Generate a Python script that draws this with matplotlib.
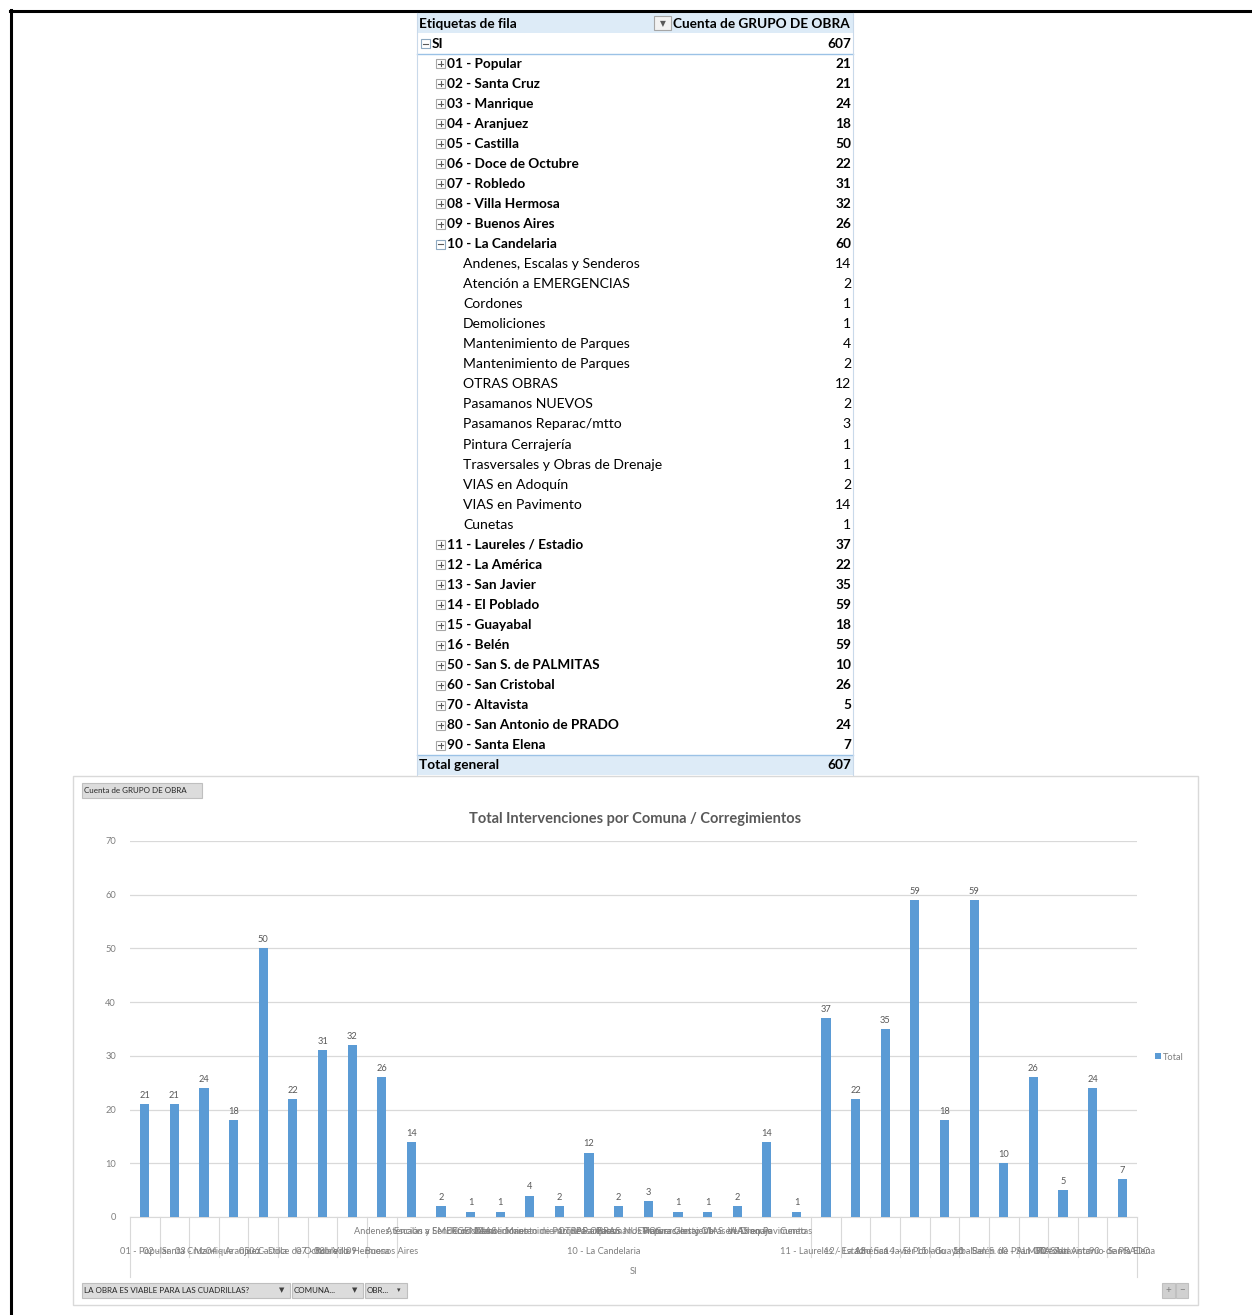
import matplotlib
matplotlib.use('Agg')
import matplotlib.pyplot as plt
from matplotlib.patches import Rectangle
from matplotlib.lines import Line2D

# Pivot table data
comunas = ['01 - Popular', '02 - Santa Cruz', '03 - Manrique', '04 - Aranjuez',
           '05 - Castilla', '06 - Doce de Octubre', '07 - Robledo',
           '08 - Villa Hermosa', '09 - Buenos Aires', '10 - La Candelaria',
           '11 - Laureles / Estadio', '12 - La América', '13 - San Javier',
           '14 - El Poblado', '15 - Guayabal', '16 - Belén',
           '50 - San S. de PALMITAS', '60 - San Cristobal', '70 - Altavista',
           '80 - San Antonio de PRADO', '90 - Santa Elena']
totales = [21, 21, 24, 18, 50, 22, 31, 32, 26, 60, 37, 22, 35, 59, 18, 59, 10, 26, 5, 24, 7]
expandida = '10 - La Candelaria'
obras_candelaria = ['Andenes, Escalas y Senderos', 'Atención a EMERGENCIAS', 'Cordones',
                    'Demoliciones', 'Mantenimiento de Parques', 'Mantenimiento de Parques',
                    'OTRAS OBRAS', 'Pasamanos NUEVOS', 'Pasamanos Reparac/mtto',
                    'Pintura Cerrajería', 'Trasversales y Obras de Drenaje',
                    'VIAS en Adoquín', 'VIAS en Pavimento', 'Cunetas']
valores_candelaria = [14, 2, 1, 1, 4, 2, 12, 2, 3, 1, 1, 2, 14, 1]
total_general = 607

W, H = 1252, 1315
FONT = ['Lato', 'DejaVu Sans']
plt.rcParams['font.family'] = FONT

fig = plt.figure(figsize=(W / 100, H / 100), dpi=100)


def px(x):
    return x / W


def py(y):
    return 1 - y / H


def hline(x0, x1, y, color, lw=1.0):
    fig.add_artist(Line2D([px(x0), px(x1)], [py(y), py(y)], color=color, lw=lw,
                          transform=fig.transFigure))


def vline(x, y0, y1, color, lw=1.0):
    fig.add_artist(Line2D([px(x), px(x)], [py(y0), py(y1)], color=color, lw=lw,
                          transform=fig.transFigure))


def rect(x0, y0, x1, y1, fc, ec='none', lw=0.8, z=1):
    fig.add_artist(Rectangle((px(x0), py(y1)), px(x1) - px(x0), py(y0) - py(y1),
                             facecolor=fc, edgecolor=ec, lw=lw, zorder=z,
                             transform=fig.transFigure))


def toggle(x, yc, minus=False):
    # small +/- box of the pivot table
    rect(x, yc - 4.5, x + 9, yc + 4.5, 'white', ec='#8EA9C1' if minus else '#A6A6A6', lw=0.8)
    hline(x + 2, x + 7, yc, '#595959', lw=0.8)
    if not minus:
        vline(x + 4.5, yc - 2.5, yc + 2.5, '#595959', lw=0.8)


# outer frame
hline(10, 1252, 11, 'black', lw=2.2)
vline(11, 10, 1315, 'black', lw=2.2)

# ---------- pivot table ----------
TL, TR = 417, 853
ROW = 20.05
y_head = 23.5
fs = 9.8
fs_reg = 10.1
rect(TL, 13, TR, 33, '#DDEBF7')
fig.text(px(419), py(y_head), 'Etiquetas de fila', fontsize=fs, weight='bold',
         va='center', ha='left', color='black')
fig.text(px(850), py(y_head), 'Cuenta de GRUPO DE OBRA', fontsize=fs, weight='bold',
         va='center', ha='right', color='black')
# filter icon
rect(654, 16, 671, 30, '#F2F2F2', ec='#A6A6A6')
fig.text(px(662.5), py(y_head), '\u25BC', fontsize=5.5, color='#595959', ha='center',
         va='center', family='DejaVu Sans')

rows = [('SI', total_general, 'root')]
for nombre, val in zip(comunas, totales):
    rows.append((nombre, val, 'open' if nombre == expandida else 'comuna'))
    if nombre == expandida:
        for ob, v in zip(obras_candelaria, valores_candelaria):
            rows.append((ob, v, 'obra'))

for i, (lab, val, kind) in enumerate(rows):
    yc = y_head + (i + 1) * ROW
    if kind == 'root':
        toggle(421, yc, minus=True)
        fig.text(px(432), py(yc), lab, fontsize=fs, weight='bold', va='center', ha='left')
        fig.text(px(851), py(yc), str(val), fontsize=fs, weight='bold', va='center', ha='right')
    elif kind in ('comuna', 'open'):
        toggle(436, yc, minus=(kind == 'open'))
        fig.text(px(447), py(yc), lab, fontsize=fs, weight='bold', va='center', ha='left')
        fig.text(px(851), py(yc), str(val), fontsize=fs, weight='bold', va='center', ha='right')
    else:
        fig.text(px(463), py(yc), lab, fontsize=fs_reg, va='center', ha='left')
        fig.text(px(851), py(yc), str(val), fontsize=fs_reg, va='center', ha='right')

y_tot = y_head + (len(rows) + 1) * ROW
rect(TL, y_tot - 10, TR, y_tot + 10, '#DDEBF7')
hline(TL, TR, y_tot - 10, '#9BC2E6', lw=1.0)
hline(TL, TR, y_head + ROW + 10, '#9BC2E6', lw=1.0)
fig.text(px(419), py(y_tot), 'Total general', fontsize=fs, weight='bold', va='center', ha='left')
fig.text(px(851), py(y_tot), str(total_general), fontsize=fs, weight='bold', va='center', ha='right')
vline(TL, 13, y_tot + 10, '#C9D9EA', lw=0.8)
vline(TR, 13, y_tot + 10, '#C9D9EA', lw=0.8)

# ---------- pivot chart ----------
rect(73, 776, 1198, 1305, 'white', ec='#D9D9D9', lw=1.0, z=0.5)

etiquetas, valores, grupo = [], [], []
for nombre, val in zip(comunas, totales):
    if nombre == expandida:
        etiquetas += obras_candelaria
        valores += valores_candelaria
        grupo += [nombre] * len(obras_candelaria)
    else:
        etiquetas.append('')
        valores.append(val)
        grupo.append(nombre)
n = len(valores)
xs = list(range(n))

A_TOP, A_BOT, A_L, A_R = 841, 1217, 130, 1137
ax = fig.add_axes([px(A_L), py(A_BOT), px(A_R) - px(A_L), py(A_TOP) - py(A_BOT)])
ax.set_zorder(3)
bars = ax.bar(xs, valores, width=0.31, color='#5B9BD5', zorder=3)
ax.bar_label(bars, padding=3, fontsize=6.7, color='#595959')
ax.set_xlim(-0.5, n - 0.5)
ax.set_ylim(0, 70)
ax.set_yticks(range(0, 71, 10))
ax.yaxis.grid(True, color='#D9D9D9', lw=0.9, zorder=0)
ax.set_axisbelow(True)
ax.tick_params(axis='y', length=0, labelsize=6.7, labelcolor='#7F7F7F', pad=10)
ax.tick_params(axis='x', length=0, labelbottom=False)
for s in ['top', 'right', 'left']:
    ax.spines[s].set_visible(False)
ax.spines['bottom'].set_color('#D9D9D9')
ax.patch.set_alpha(0)

tr = ax.get_xaxis_transform()


def ay(ypix):
    return (A_BOT - ypix) / (A_BOT - A_TOP)


# level 1 labels (obras)
for x, lab in zip(xs, etiquetas):
    if lab:
        ax.text(x, ay(1230), lab, transform=tr, fontsize=6.7, color='#7F7F7F',
                ha='center', va='center_baseline', clip_on=False)

# level 2 labels (comunas) and separators
start = 0
for nombre in comunas:
    cnt = grupo.count(nombre)
    mid = start + (cnt - 1) / 2
    ax.text(mid, ay(1250), nombre, transform=tr, fontsize=6.7, color='#7F7F7F',
            ha='center', va='center_baseline', clip_on=False)
    b = start - 0.5
    ax.add_line(Line2D([b, b], [0, ay(1277 if start == 0 else 1257)], transform=tr,
                       color='#D9D9D9', lw=0.8, clip_on=False))
    start += cnt
ax.add_line(Line2D([n - 0.5, n - 0.5], [0, ay(1277)], transform=tr,
                   color='#D9D9D9', lw=0.8, clip_on=False))
# level 3
ax.text((n - 1) / 2, ay(1270), 'SI', transform=tr, fontsize=6.7, color='#7F7F7F',
        ha='center', va='center_baseline', clip_on=False)

# title and legend
fig.text(px(635), py(817), 'Total Intervenciones por Comuna / Corregimientos',
         fontsize=10.5, weight='bold', color='#595959', ha='center', va='center_baseline')
rect(1155, 1053, 1161, 1059, '#5B9BD5')
fig.text(px(1163), py(1056), 'Total', fontsize=6.7, color='#7F7F7F', ha='left',
         va='center_baseline')

# field buttons
btn_fc, btn_ec = '#DCDCDC', '#BFBFBF'
rect(82, 783, 202, 798, btn_fc, ec=btn_ec)
fig.text(px(84), py(790.5), 'Cuenta de GRUPO DE OBRA', fontsize=5.8, color='#262626',
         ha='left', va='center')

botones = [('LA OBRA ES VIABLE PARA LAS CUADRILLAS?', 82, 290, True),
           ('COMUNA...', 292, 363, True),
           ('OBR...', 365, 407, False)]
for txt, x0, x1, filtro in botones:
    rect(x0, 1283, x1, 1298, btn_fc, ec=btn_ec)
    fig.text(px(x0 + 2), py(1290.5), txt, fontsize=5.8, color='#262626', ha='left', va='center')
    fig.text(px(x1 - 8), py(1290.5), '\u25BC' if filtro else '\u25BE',
             fontsize=5, color='#404040', ha='center', va='center',
             family='DejaVu Sans')

rect(1162, 1283, 1175, 1298, '#D0D0D0', ec='#C0C0C0')
rect(1176, 1283, 1188, 1298, '#D0D0D0', ec='#C0C0C0')
fig.text(px(1168.5), py(1290.5), '+', fontsize=7, color='#808080', ha='center', va='center')
fig.text(px(1182), py(1290.5), '\u2212', fontsize=7, color='#808080', ha='center', va='center')

fig.savefig('out.png', dpi=100)
